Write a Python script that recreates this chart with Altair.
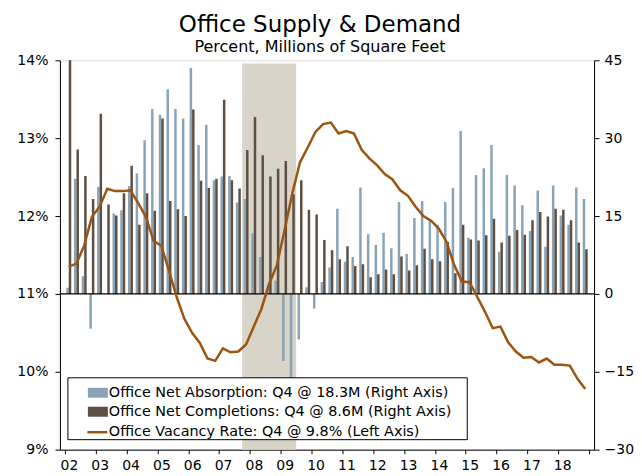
import altair as alt
import pandas as pd

# ---------------- data ----------------
years = list(range(2002, 2019))
quarters = [f"{y}Q{q}" for y in years for q in range(1, 5)]
year_labels = ["02", "03", "04", "05", "06", "07", "08", "09", "10",
               "11", "12", "13", "14", "15", "16", "17", "18"]

# Office net absorption, millions of sq ft (right axis)
absorption = [
    1.2, 22.2, 3.4, -6.7,
    20.6, 0.0, 15.5, 16.1,
    20.8, 23.2, 29.6, 35.6,
    34.5, 39.4, 35.6, 33.8,
    43.5, 28.7, 32.6, 21.9,
    22.6, 22.7, 17.6, 18.3,
    11.7, 7.1, 1.0, 2.6,
    -12.9, -16.6, -8.8, 1.3,
    -2.8, 2.3, 5.1, 16.4,
    6.2, 7.1, 20.5, 11.5,
    9.4, 11.8, 8.8, 17.7,
    7.7, 14.6, 17.9, 14.4,
    13.3, 17.7, 20.4, 31.4,
    10.8, 22.9, 24.2, 28.7,
    8.1, 22.9, 20.9, 17.1,
    12.1, 19.9, 9.1, 20.9,
    15.1, 13.3, 20.5, 18.3,
]

# Office net completions, millions of sq ft (right axis)
completions = [
    47.0, 27.8, 22.7, 18.3,
    34.7, 17.2, 15.1, 19.4,
    24.7, 13.3, 19.4, 16.0,
    33.8, 17.9, 16.3, 15.0,
    35.5, 21.8, 20.4, 22.2,
    37.4, 21.9, 20.3, 27.7,
    34.1, 26.7, 22.6, 24.1,
    25.6, 19.2, 21.9, 16.2,
    15.3, 10.4, 8.4, 6.7,
    9.2, 5.4, 5.7, 3.2,
    3.8, 4.7, 3.8, 7.2,
    4.5, 5.5, 8.7, 6.7,
    6.3, 10.0, 4.0, 13.3,
    10.5, 10.3, 11.3, 14.5,
    9.9, 11.2, 12.3, 11.4,
    14.2, 15.8, 14.9, 16.4,
    16.2, 14.2, 9.9, 8.6,
]

# Office vacancy rate, percent (left axis)
vacancy = [
    11.35, 11.39, 11.62, 11.99,
    12.12, 12.35, 12.32, 12.32,
    12.33, 12.17, 11.99, 11.68,
    11.62, 11.30, 10.96, 10.68,
    10.50, 10.37, 10.17, 10.14,
    10.30, 10.25, 10.26, 10.35,
    10.58, 10.81, 11.13, 11.37,
    11.82, 12.29, 12.69, 12.88,
    13.08, 13.18, 13.20, 13.06,
    13.09, 13.06, 12.85, 12.74,
    12.65, 12.54, 12.47, 12.33,
    12.26, 12.12, 12.00, 11.94,
    11.84, 11.67, 11.37, 11.16,
    11.15, 10.96, 10.77, 10.56,
    10.58, 10.38, 10.26, 10.18,
    10.19, 10.12, 10.17, 10.09,
    10.09, 10.08, 9.91, 9.78,
]

recession = ["2007Q4", "2009Q2"]

left_ticks = [9, 10, 11, 12, 13, 14]
right_ticks = [-30, -15, 0, 15, 30, 45]

# ---------------- styling ----------------
FONT = "DejaVu Sans"
BLUE = "#8AA4B7"
BROWN = "#5E4F42"
LINE = "#9A5512"
SHADE = "#D8D4C8"
LEG_FS = 14.4

lab_abs = f"Office Net Absorption: Q4 @ {absorption[-1]}M (Right Axis)"
lab_comp = f"Office Net Completions: Q4 @ {completions[-1]}M (Right Axis)"
lab_vac = f"Office Vacancy Rate: Q4 @ {round(vacancy[-1], 1)}% (Left Axis)"

n = len(quarters)
df = pd.DataFrame({"quarter": quarters, "t": list(range(n)),
                   "absorption": absorption, "completions": completions,
                   "vacancy": vacancy})
df["vac_label"] = lab_vac

bars_long = pd.concat([
    pd.DataFrame({"t": df["t"], "value": absorption, "series": lab_abs, "pos": 0.34}),
    pd.DataFrame({"t": df["t"], "value": completions, "series": lab_comp, "pos": 0.66}),
])

rec_df = pd.DataFrame({"start": [quarters.index(recession[0])],
                       "end": [quarters.index(recession[1]) + 1]})

xscale = alt.Scale(domain=[0, n], nice=False, zero=False)
label_arr = "[" + ",".join(f"'{s}'" for s in year_labels) + "]"
xaxis = alt.Axis(values=list(range(0, n + 1, 4)),
                 labelExpr=f"{label_arr}[datum.value/4] || ''",
                 labelOffset=4, labelFlush=False, labelPadding=5,
                 tickSize=4, tickColor="black", domainColor="black",
                 labelFont=FONT, labelFontSize=14, labelColor="black",
                 grid=False, title=None)

yr_scale = alt.Scale(domain=[-30, 45], nice=False, zero=False)
yr_axis = alt.Axis(orient="right", values=right_ticks, tickSize=5,
                   tickColor="black", domainColor="black", labelPadding=5,
                   labelFont=FONT, labelFontSize=14, labelColor="black",
                   grid=False, title=None)

yl_scale = alt.Scale(domain=[9, 14], nice=False, zero=False)
yl_axis = alt.Axis(orient="left", values=left_ticks, tickSize=5,
                   labelExpr="datum.value + '%'",
                   tickColor="black", domainColor="black", labelPadding=7,
                   labelFont=FONT, labelFontSize=14, labelColor="black",
                   grid=False, title=None)

shade = alt.Chart(rec_df).mark_rect(color=SHADE).encode(
    x=alt.X("start:Q", scale=xscale, axis=xaxis),
    x2="end:Q",
    y=alt.Y(datum=44.4, scale=yr_scale, axis=yr_axis),
    y2=alt.Y2(datum=-30),
)

bars = alt.Chart(bars_long).transform_calculate(
    xpos="datum.t + datum.pos"
).mark_bar(size=2.5, clip=True).encode(
    x=alt.X("xpos:Q", scale=xscale, axis=xaxis),
    y=alt.Y("value:Q", scale=yr_scale, axis=yr_axis),
    fill=alt.Fill("series:N",
                  scale=alt.Scale(domain=[lab_abs, lab_comp], range=[BLUE, BROWN]),
                  legend=alt.Legend(orient="none", legendX=28, legendY=323,
                                    title=None, symbolType="M-1,-0.5H1V0.5H-1Z",
                                    symbolSize=400, symbolStrokeWidth=0,
                                    symbolOpacity=1,
                                    labelFont=FONT, labelFontSize=LEG_FS,
                                    labelColor="black", labelOffset=1,
                                    rowPadding=2, padding=0,
                                    labelLimit=500)),
)

zero = alt.Chart(pd.DataFrame({"zero": [0]})).mark_rule(
    color="black", strokeWidth=1.2
).encode(y=alt.Y("zero:Q", scale=yr_scale, axis=yr_axis))

legend_box = alt.Chart(pd.DataFrame({"a": [0]})).mark_rect(
    fill="white", stroke="black", strokeWidth=1
).encode(x=alt.value(8), x2=alt.value(408), y=alt.value(318), y2=alt.value(380))

right_group = alt.layer(shade, bars, zero, legend_box)

line = alt.Chart(df).transform_calculate(
    xc="datum.t + 0.5"
).mark_line(strokeWidth=2.5, clip=True).encode(
    x=alt.X("xc:Q", scale=xscale, axis=xaxis),
    y=alt.Y("vacancy:Q", scale=yl_scale, axis=yl_axis),
    stroke=alt.Stroke("vac_label:N",
                      scale=alt.Scale(domain=[lab_vac], range=[LINE]),
                      legend=alt.Legend(orient="none", legendX=26, legendY=361,
                                        title=None, symbolType="stroke",
                                        symbolSize=400, symbolStrokeWidth=2.5,
                                        labelFont=FONT, labelFontSize=LEG_FS,
                                        labelColor="black", labelOffset=0,
                                        padding=0, labelLimit=500)),
)

chart = alt.layer(right_group, line).resolve_scale(
    y="independent"
).properties(
    width=535, height=390,
    autosize=alt.AutoSizeParams(type="none"),
    padding={"left": 52, "top": 52, "right": 40, "bottom": 24},
    title=alt.TitleParams(
        text="Office Supply & Demand",
        subtitle="Percent, Millions of Square Feet",
        font=FONT, fontSize=23, fontWeight="normal", color="black",
        subtitleFont=FONT, subtitleFontSize=16, subtitleColor="black",
        subtitlePadding=2, anchor="middle", offset=-2, dx=-7,
    ),
).configure_view(stroke="black", strokeWidth=1).configure(background="white")

chart.save("out.html", embed_options={"renderer": "svg", "actions": False})
